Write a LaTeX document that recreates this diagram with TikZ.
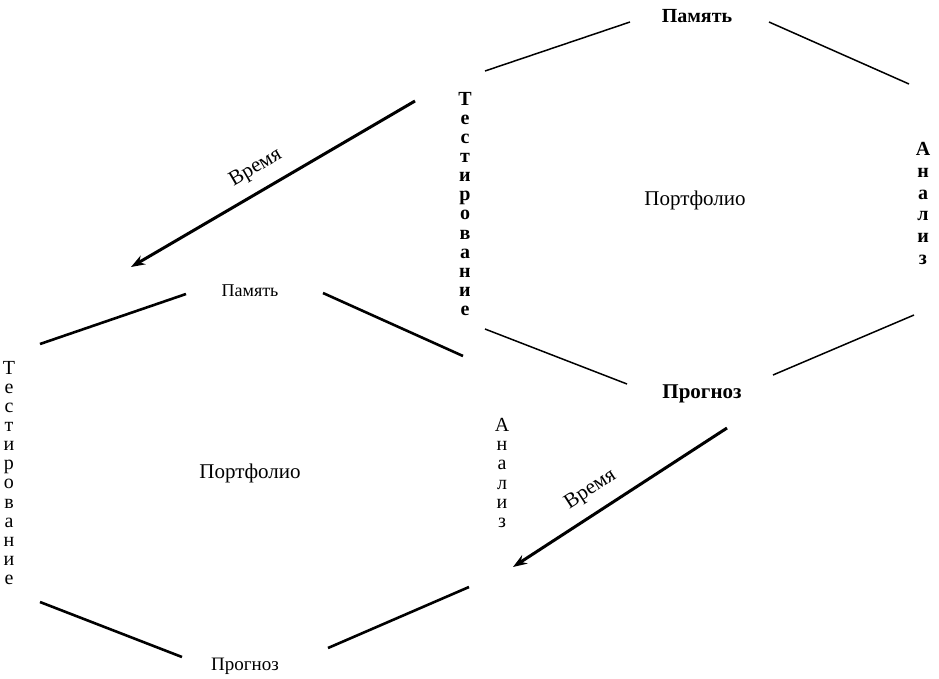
\documentclass[tikz,border=0pt]{standalone}
\usepackage{fontspec}
\setmainfont{LiberationSerif}[Extension=.ttf,UprightFont=*-Regular,BoldFont=*-Bold,ItalicFont=*-Italic,BoldItalicFont=*-BoldItalic]
\usetikzlibrary{arrows.meta}
\begin{document}
\begin{tikzpicture}[x=1pt,y=-1pt,
  lbl/.style={inner sep=0pt,anchor=base},
  vert/.style={inner sep=0pt,anchor=north,align=center},
  thinedge/.style={line width=1.5pt},
  thickedge/.style={line width=2.6pt},
  timearrow/.style={line width=3pt,-{Stealth[length=14pt,width=10pt]}},
  timelbl/.style={midway,sloped,above,font=\fontsize{21}{21}\selectfont,inner sep=0pt,yshift=12pt}]
\useasboundingbox (0,0) rectangle (939,678);
% ---- top-right hexagon ----
\node[lbl,font=\fontsize{20}{20}\selectfont\bfseries] (m1) at (697,22) {Память};
\node[lbl,font=\fontsize{21}{21}\selectfont\bfseries] (p1) at (702,398) {Прогноз};
\node[lbl,font=\fontsize{21}{21}\selectfont] (f1) at (695,205) {Портфолио};
\node[vert,font=\fontsize{20}{19.1}\selectfont\bfseries] (t1) at (465,92) {Т\\е\\с\\т\\и\\р\\о\\в\\а\\н\\и\\е};
\node[vert,font=\fontsize{20}{21.8}\selectfont\bfseries] (a1) at (923,142) {А\\н\\а\\л\\и\\з};
\coordinate (e1a) at (485,71);  \coordinate (e1b) at (630,22);
\coordinate (e2a) at (769,22);  \coordinate (e2b) at (909,84);
\coordinate (e3a) at (485,329); \coordinate (e3b) at (627,384);
\coordinate (e4a) at (773,375); \coordinate (e4b) at (914,315);
\draw[thinedge] (e1a) -- (e1b);
\draw[thinedge] (e2a) -- (e2b);
\draw[thinedge] (e3a) -- (e3b);
\draw[thinedge] (e4a) -- (e4b);
% ---- left hexagon ----
\node[lbl,font=\fontsize{18}{18}\selectfont] (m2) at (250,296) {Память};
\node[lbl,font=\fontsize{21}{21}\selectfont] (f2) at (250,478) {Портфолио};
\node[lbl,font=\fontsize{19}{19}\selectfont] (p2) at (245,670) {Прогноз};
\node[vert,font=\fontsize{20}{19.1}\selectfont] (t2) at (9,361) {Т\\е\\с\\т\\и\\р\\о\\в\\а\\н\\и\\е};
\node[vert,font=\fontsize{20}{19.2}\selectfont] (a2) at (502,418) {А\\н\\а\\л\\и\\з};
\coordinate (g1a) at (40,344);  \coordinate (g1b) at (186,294);
\coordinate (g2a) at (323,293); \coordinate (g2b) at (463,356);
\coordinate (g3a) at (40,602);  \coordinate (g3b) at (182,657);
\coordinate (g4a) at (328,648); \coordinate (g4b) at (469,587);
\draw[thickedge] (g1a) -- (g1b);
\draw[thickedge] (g2a) -- (g2b);
\draw[thickedge] (g3a) -- (g3b);
\draw[thickedge] (g4a) -- (g4b);
% ---- time arrows ----
\coordinate (s1) at (415,101); \coordinate (d1) at (131,267);
\coordinate (s2) at (727,428); \coordinate (d2) at (513,567);
\draw[timearrow] (s1) -- node[timelbl,pos=0.52] (w1) {Время} (d1);
\draw[timearrow] (s2) -- node[timelbl,pos=0.58] (w2) {Время} (d2);
\end{tikzpicture}
\end{document}
